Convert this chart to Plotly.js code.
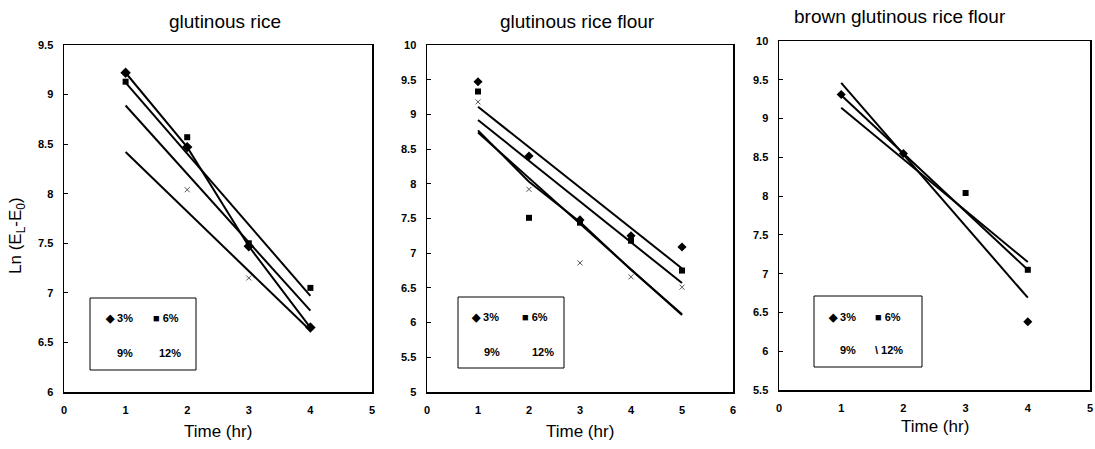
<!DOCTYPE html>
<html>
<head>
<meta charset="utf-8">
<script src="https://cdn.plot.ly/plotly-3.0.1.min.js"></script>
<style>html,body{margin:0;padding:0;background:#fff;}#chart{width:1095px;height:449px;}</style>
</head>
<body>
<div id="chart"></div>
<script>
// ---------------- DATA ----------------
const seriesNames = ["3%", "6%", "9%", "12%"];
const panelTitles = ["glutinous rice", "glutinous rice flour", "brown glutinous rice flour"];

// Panel 1: glutinous rice
const p1Time = [1, 2, 3, 4];
const p1S3 = [9.22, 8.47, 7.47, 6.65];
const p1S6 = [9.13, 8.57, 7.50, 7.05];
const p1S12 = [null, 8.04, 7.15, null];
const p1TrendX = [1, 4];
const p1Trend6 = [9.12, 6.97];
const p1Trend9 = [8.89, 6.82];
const p1Trend12 = [8.42, 6.62];

// Panel 2: glutinous rice flour
const p2Time = [1, 2, 3, 4, 5];
const p2S3 = [9.47, 8.40, 7.48, 7.25, 7.09];
const p2S6 = [9.33, 7.51, 7.44, 7.18, 6.75];
const p2S12 = [9.18, 7.92, 6.86, 6.66, 6.51];
const p2TrendX = [1, 5];
const p2Trend3 = [9.11, 6.78];
const p2Trend6 = [8.92, 6.57];
const p2Trend12 = [8.74, 6.11];
const p2Line9 = [8.77, 8.03, 7.45, 6.76, 6.12];

// Panel 3: brown glutinous rice flour
const p3Time = [1, 2, 3, 4];
const p3S3 = [9.31, 8.55, null, 6.38];
const p3S6 = [null, null, 8.04, 7.05];
const p3TrendX = [1, 4];
const p3Trend3 = [9.46, 6.69];
const p3Trend6 = [9.30, 7.05];
const p3Trend12 = [9.14, 7.15];

// ---------------- HELPERS ----------------
const W = 1095, H = 449;
const fx = x => x / W;
const fy = y => 1 - y / H;
const FONT = 'Liberation Sans, Arial, sans-serif';
const TICKFONT = {family: 'Liberation Sans Narrow, Arial Narrow, Liberation Sans, Arial', size: 11, color: '#000', weight: 'bold'};

function markers(x, y, sym, size, xa, ya, extra) {
  return Object.assign({x: x, y: y, xaxis: xa, yaxis: ya, mode: 'markers', showlegend: false,
    marker: {symbol: sym, size: size, color: '#000', line: {color: '#000', width: 0}},
    hoverinfo: 'skip'}, extra || {});
}
function line(x, y, xa, ya) {
  return {x: x, y: y, xaxis: xa, yaxis: ya, mode: 'lines', showlegend: false,
    line: {color: '#000', width: 2}, hoverinfo: 'skip'};
}
const thinX = {marker: {symbol: 'x-thin', size: 5, line: {color: '#555', width: 1}}};

const traces = [
  // panel 1
  line(p1TrendX, p1Trend6, 'x', 'y'),
  line(p1TrendX, p1Trend9, 'x', 'y'),
  line(p1TrendX, p1Trend12, 'x', 'y'),
  {x: p1Time, y: p1S3, xaxis: 'x', yaxis: 'y', mode: 'lines+markers', showlegend: false,
   line: {color: '#000', width: 2}, marker: {symbol: 'diamond', size: 8, color: '#000'}, hoverinfo: 'skip'},
  markers(p1Time, p1S6, 'square', 6, 'x', 'y'),
  markers(p1Time, p1S12, 'x-thin', 5, 'x', 'y', thinX),
  // panel 2
  line(p2TrendX, p2Trend3, 'x2', 'y2'),
  line(p2TrendX, p2Trend6, 'x2', 'y2'),
  line(p2TrendX, p2Trend12, 'x2', 'y2'),
  line(p2Time, p2Line9, 'x2', 'y2'),
  markers(p2Time, p2S3, 'diamond', 7, 'x2', 'y2'),
  markers(p2Time, p2S6, 'square', 6, 'x2', 'y2'),
  markers(p2Time, p2S12, 'x-thin', 5, 'x2', 'y2', thinX),
  // panel 3
  line(p3TrendX, p3Trend3, 'x3', 'y3'),
  line(p3TrendX, p3Trend6, 'x3', 'y3'),
  line(p3TrendX, p3Trend12, 'x3', 'y3'),
  markers(p3Time, p3S3, 'diamond', 7, 'x3', 'y3'),
  markers(p3Time, p3S6, 'square', 6, 'x3', 'y3')
];

function xaxisDef(l, r, max) {
  return {domain: [fx(l), fx(r)], range: [0, max], dtick: 1, tick0: 0, showline: true, mirror: true,
    linecolor: '#000', linewidth: 1.5, ticks: '', showgrid: false, zeroline: false,
    tickfont: TICKFONT, ticklabelstandoff: 7, fixedrange: true};
}
function yaxisDef(t, b, min, max, anchor) {
  return {domain: [fy(b), fy(t)], range: [min, max], dtick: 0.5, tick0: 0, showline: true, mirror: true,
    linecolor: '#000', linewidth: 1.5, ticks: 'inside', ticklen: 4, tickcolor: '#000',
    showgrid: false, zeroline: false, tickfont: TICKFONT, ticklabelstandoff: 7, anchor: anchor, fixedrange: true};
}

const ann = [];
const shapes = [];
// titles
[[225, 21], [577, 21], [900, 16]].forEach((p, i) => {
  ann.push({xref: 'paper', yref: 'paper', x: fx(p[0]), y: fy(p[1]), text: panelTitles[i], showarrow: false,
    font: {family: FONT, size: 19, color: '#000'}, xanchor: 'center', yanchor: 'middle'});
});
// x-axis titles
[[218, 431], [580, 431], [935, 426]].forEach(p => {
  ann.push({xref: 'paper', yref: 'paper', x: fx(p[0]), y: fy(p[1]), text: 'Time (hr)', showarrow: false,
    font: {family: FONT, size: 17, color: '#000'}, xanchor: 'center', yanchor: 'middle'});
});
// y-axis title
ann.push({xref: 'paper', yref: 'paper', x: fx(17), y: fy(236), text: 'Ln (E<sub>L</sub>-E<sub>0</sub>)', showarrow: false,
  textangle: -90, font: {family: FONT, size: 17, color: '#000'}, xanchor: 'center', yanchor: 'middle'});

// legend boxes (drawn manually: 2x2 grid)
const legends = [
  {box: [90, 298, 196, 370], r1: 318, r2: 353, c: [[103, '◆ '], [151, '■ '], [115, ''], [157, '']]},
  {box: [458, 297, 564, 368], r1: 317, r2: 352, c: [[469, '◆ '], [520, '■ '], [482, ''], [530, '']]},
  {box: [814, 296, 922, 367], r1: 317, r2: 350, c: [[826, '◆ '], [873, '■ '], [838, ''], [873, '\\ ']]}
];
legends.forEach(lg => {
  shapes.push({type: 'rect', xref: 'paper', yref: 'paper', x0: fx(lg.box[0]), x1: fx(lg.box[2]),
    y0: fy(lg.box[3]), y1: fy(lg.box[1]), line: {color: '#000', width: 1}, fillcolor: '#fff', layer: 'below'});
  lg.c.forEach((c, i) => {
    ann.push({xref: 'paper', yref: 'paper', x: fx(c[0]), y: fy(i < 2 ? lg.r1 : lg.r2), text: c[1] + seriesNames[i],
      showarrow: false, xanchor: 'left', yanchor: 'middle',
      font: {family: FONT, size: 11, color: '#000', weight: 'bold'}});
  });
});

const layout = {
  width: W, height: H, margin: {l: 0, r: 0, t: 0, b: 0},
  paper_bgcolor: '#fff', plot_bgcolor: 'rgba(0,0,0,0)', showlegend: false,
  xaxis: Object.assign(xaxisDef(64, 372, 5), {anchor: 'y'}),
  yaxis: yaxisDef(45, 392, 6, 9.5, 'x'),
  xaxis2: Object.assign(xaxisDef(427, 733, 6), {anchor: 'y2'}),
  yaxis2: yaxisDef(45, 392, 5, 10, 'x2'),
  xaxis3: Object.assign(xaxisDef(779, 1090, 5), {anchor: 'y3'}),
  yaxis3: yaxisDef(41, 390, 5.5, 10, 'x3'),
  annotations: ann, shapes: shapes
};

Plotly.newPlot('chart', traces, layout, {staticPlot: true, displayModeBar: false});
</script>
</body>
</html>
